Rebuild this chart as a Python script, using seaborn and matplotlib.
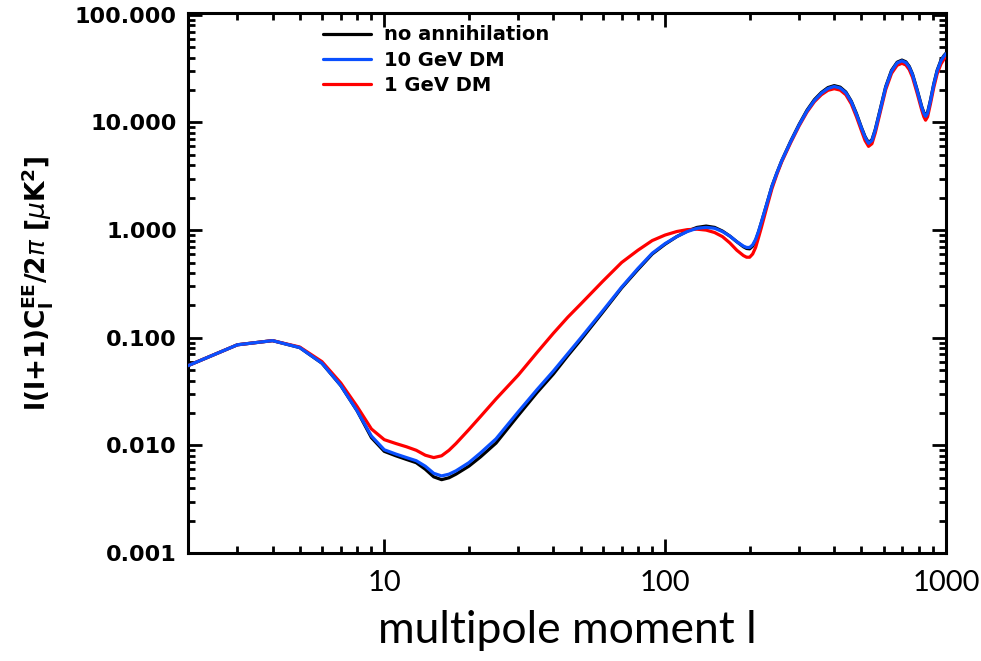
import numpy as np
import pandas as pd
import matplotlib
matplotlib.use("Agg")
import matplotlib.pyplot as plt
import matplotlib.ticker as mticker
import seaborn as sns

# multipole moments
ell = [2, 3, 4, 5, 6, 7, 8, 9, 10, 11, 12, 13, 14, 15, 16, 17, 18, 20, 22, 25,
       30, 35, 40, 45, 50, 60, 70, 80, 90, 100, 110, 120, 130, 140, 150, 160,
       170, 180, 190, 195, 200, 205, 210, 215, 220, 230, 240, 250, 260, 280,
       300, 320, 340, 360, 380, 400, 420, 440, 460, 480, 500, 515, 530, 545,
       560, 580, 610, 640, 670, 697, 720, 740, 760, 790, 820, 834, 846, 860,
       880, 905, 930, 960, 985, 1000]

# l(l+1)C_l^EE/2pi [muK^2]
no_annihilation = [0.055, 0.086, 0.094, 0.081, 0.058, 0.036, 0.021, 0.0118, 0.0088, 0.0080,
                   0.0074, 0.0069, 0.0060, 0.0051, 0.0048, 0.0050, 0.0054, 0.0064, 0.0078, 0.0105,
                   0.019, 0.031, 0.046, 0.068, 0.095, 0.173, 0.29, 0.43, 0.60, 0.74,
                   0.87, 0.98, 1.06, 1.09, 1.06, 0.98, 0.88, 0.78, 0.70, 0.675,
                   0.67, 0.71, 0.80, 0.96, 1.17, 1.74, 2.55, 3.4, 4.4, 6.7,
                   9.6, 13.0, 16.3, 19.0, 21.1, 22.0, 21.3, 19.2, 15.8, 12.1,
                   9.0, 7.4, 6.5, 6.9, 8.6, 12.5, 21.5, 30.5, 36.3, 38.0,
                   36.6, 33.2, 28.2, 20.0, 14.0, 12.4, 11.6, 12.4, 16.0, 22.9,
                   30.5, 38.0, 42.0, 44.0]

dm_10gev = [0.055, 0.086, 0.094, 0.081, 0.058, 0.036, 0.021, 0.0122, 0.0091, 0.0083,
            0.0077, 0.0072, 0.0064, 0.0055, 0.0052, 0.0054, 0.0058, 0.0069, 0.0085, 0.0115,
            0.0205, 0.033, 0.049, 0.071, 0.099, 0.178, 0.295, 0.44, 0.61, 0.75,
            0.87, 0.97, 1.04, 1.06, 1.04, 0.97, 0.88, 0.78, 0.71, 0.69,
            0.69, 0.73, 0.82, 0.97, 1.18, 1.74, 2.55, 3.4, 4.4, 6.65,
            9.5, 12.8, 16.0, 18.7, 20.7, 21.6, 20.9, 18.9, 15.6, 11.9,
            8.9, 7.3, 6.4, 6.8, 8.5, 12.3, 21.2, 30.0, 35.8, 37.4,
            36.0, 32.7, 27.8, 19.7, 13.8, 12.2, 11.4, 12.2, 15.8, 22.6,
            30.1, 37.5, 41.5, 43.5]

dm_1gev = [0.055, 0.086, 0.094, 0.082, 0.060, 0.038, 0.023, 0.0142, 0.0113, 0.0104,
           0.0097, 0.0090, 0.0081, 0.0077, 0.0080, 0.0090, 0.0104, 0.0140, 0.0185, 0.027,
           0.045, 0.073, 0.110, 0.155, 0.205, 0.335, 0.50, 0.65, 0.80, 0.90,
           0.97, 1.01, 1.02, 1.00, 0.95, 0.87, 0.76, 0.65, 0.58, 0.56,
           0.56, 0.60, 0.69, 0.85, 1.05, 1.62, 2.42, 3.3, 4.3, 6.5,
           9.3, 12.5, 15.6, 18.1, 19.9, 20.6, 20.0, 18.1, 14.9, 11.3,
           8.4, 6.8, 6.0, 6.35, 8.0, 11.7, 20.2, 28.6, 34.0, 35.5,
           34.2, 31.0, 26.3, 18.6, 13.0, 11.3, 10.5, 11.3, 14.8, 21.2,
           28.3, 35.0, 39.0, 41.0]

labels = ["no annihilation", "10 GeV DM", "1 GeV DM"]
colors = {"no annihilation": "black", "10 GeV DM": "#0a50ff", "1 GeV DM": "#ff0000"}

df = pd.DataFrame({
    "l": ell * 3,
    "cl": no_annihilation + dm_10gev + dm_1gev,
    "model": [labels[0]] * len(ell) + [labels[1]] * len(ell) + [labels[2]] * len(ell),
})

sns.set_style("ticks")
plt.rcParams["font.family"] = ["DejaVu Sans"]
plt.rcParams.update({"text.color": "black", "axes.labelcolor": "black",
                     "xtick.color": "black", "ytick.color": "black"})

fig = plt.figure(figsize=(9.81, 6.61), dpi=100)
ax = fig.add_axes([0.1916, 0.1634, 0.7727, 0.8169])

# black first, then red, blue on top
for name in ["no annihilation", "1 GeV DM", "10 GeV DM"]:
    sns.lineplot(data=df[df["model"] == name], x="l", y="cl", color=colors[name],
                 linewidth=2.3, label=name, ax=ax, zorder=3)

ax.set_xscale("log")
ax.set_yscale("log")
ax.set_xlim(2, 1000)
ax.set_ylim(0.001, 104)

ax.xaxis.set_major_locator(mticker.FixedLocator([10, 100, 1000]))
ax.xaxis.set_major_formatter(mticker.FixedFormatter(["10", "100", "1000"]))
ax.xaxis.set_minor_locator(mticker.LogLocator(base=10, subs=np.arange(2, 10)))
ax.xaxis.set_minor_formatter(mticker.NullFormatter())
ax.yaxis.set_major_locator(mticker.FixedLocator([0.001, 0.01, 0.1, 1, 10, 100]))
ax.yaxis.set_major_formatter(mticker.FixedFormatter(["0.001", "0.010", "0.100", "1.000", "10.000", "100.000"]))
ax.yaxis.set_minor_locator(mticker.LogLocator(base=10, subs=np.arange(2, 10)))
ax.yaxis.set_minor_formatter(mticker.NullFormatter())

ax.tick_params(which="both", direction="in", top=True, right=True, width=2, color="black")
ax.tick_params(which="major", length=10)
ax.tick_params(which="minor", length=5)
ax.tick_params(axis="y", which="major", labelsize=16, pad=8, labelcolor="black")
ax.tick_params(axis="x", which="major", labelsize=21, pad=12, labelcolor="black")
for lab in ax.get_yticklabels():
    lab.set_fontweight("bold")
for lab in ax.get_xticklabels():
    lab.set_family("Lato")

for sp in ax.spines.values():
    sp.set_linewidth(2.2)
    sp.set_color("black")

ax.set_xlabel("multipole moment l", fontsize=32, family="Lato", labelpad=10)
ax.set_ylabel(r"l(l+1)C$_\mathregular{l}^\mathregular{EE}$/2$\pi$ [$\mu$K$^\mathregular{2}$]",
              fontsize=19, fontweight="bold", labelpad=14)

handles, _ = ax.get_legend_handles_labels()
order = [0, 2, 1]
ax.legend([handles[i] for i in order], labels, loc="upper left",
          bbox_to_anchor=(0.165, 0.995), frameon=False, borderpad=0,
          handlelength=2.5, handletextpad=0.65, labelspacing=0.33,
          prop={"size": 14, "weight": "bold"})

fig.savefig("out.png", dpi=100)
